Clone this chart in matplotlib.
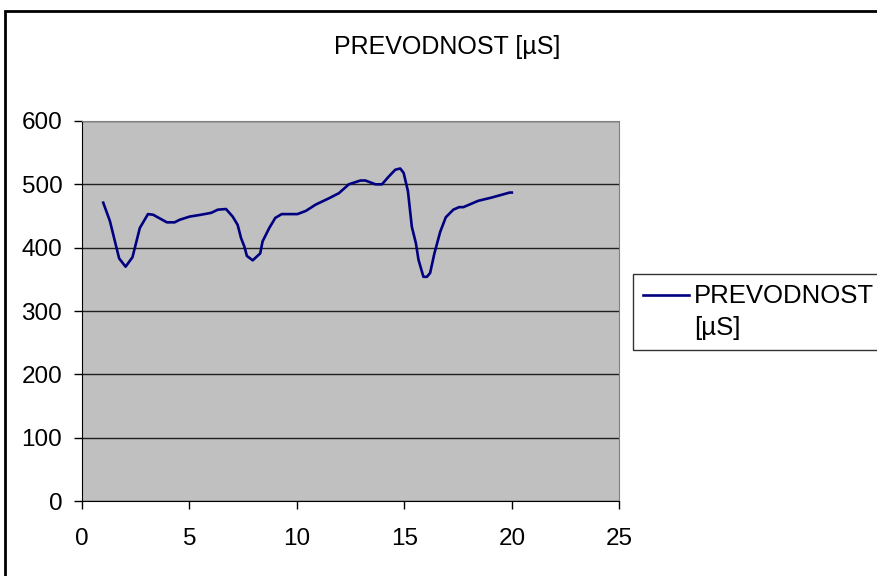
import matplotlib.pyplot as plt
from matplotlib.patches import Rectangle

plt.rcParams['font.family'] = ['Liberation Sans', 'DejaVu Sans']

# values
cas = [1.0, 1.31, 1.74, 2.04, 2.36, 2.70, 3.08, 3.32, 3.96, 4.32, 4.55, 5.01,
       5.55, 6.02, 6.33, 6.71, 7.02, 7.25, 7.41, 7.56, 7.68, 7.95, 8.30, 8.41,
       8.72, 9.0, 9.30, 10.03, 10.42, 10.88, 11.5, 11.96, 12.42, 12.96, 13.19,
       13.66, 13.96, 14.27, 14.58, 14.81, 14.97, 15.17, 15.35, 15.54, 15.66,
       15.89, 16.05, 16.2, 16.40, 16.67, 16.93, 17.28, 17.55, 17.75, 18.44,
       19.05, 19.9, 20.0]
prevodnost = [471, 442, 383, 370, 385, 431, 453, 452, 440, 440, 444, 449,
              452, 455, 460, 461, 449, 436, 415, 402, 387, 380, 391, 410,
              431, 447, 453, 453, 458, 468, 478, 486, 500, 506, 506,
              500, 500, 512, 523, 525, 518, 489, 433, 407, 381,
              354, 354, 360, 391, 425, 448, 460, 464, 464, 474,
              479, 487, 487]

xticks = [0, 5, 10, 15, 20, 25]
yticks = [0, 100, 200, 300, 400, 500, 600]

fig = plt.figure(figsize=(8.77, 5.76), dpi=100)
ax = fig.add_axes([0.0932, 0.130, 0.613, 0.660])

ax.set_facecolor('#C0C0C0')
ax.plot(cas, prevodnost, color='#000080', linewidth=1.9, label='PREVODNOST\n[µS]')

ax.set_xlim(0, 25)
ax.set_ylim(0, 600)
ax.set_xticks(xticks)
ax.set_yticks(yticks)
ax.tick_params(labelsize=17.5, direction='out', length=6, width=1, color='black')
ax.tick_params(axis='y', pad=8)
ax.tick_params(axis='x', pad=13)
ax.grid(axis='y', color='#202020', linewidth=1)
ax.set_axisbelow(True)
for side in ['left', 'bottom']:
    ax.spines[side].set_color('black')
for side in ['top', 'right']:
    ax.spines[side].set_color('#808080')

fig.text(447 / 877, 1 - 47 / 576, 'PREVODNOST [µS]', ha='center', va='center', fontsize=18)

leg = fig.legend(loc='upper left', bbox_to_anchor=(633 / 877, 1 - 274 / 576),
                 fontsize=18.5, frameon=True, fancybox=False, borderpad=0.38,
                 handlelength=1.8, handletextpad=0.2, borderaxespad=0)
leg.get_frame().set_edgecolor('black')
leg.get_frame().set_linewidth(1)
leg.get_texts()[0].set_linespacing(1.45)
# handle sits level with the first text line, as in the reference
handle = leg.get_lines()[0]
handle.set_ydata([y + 12.5 for y in handle.get_ydata()])

# outer chart frame
fig.patches.append(Rectangle((5 / 877, -0.1), 1.2, 1 - 11 / 576 + 0.1,
                             transform=fig.transFigure, fill=False,
                             edgecolor='black', linewidth=2))

fig.savefig('out.png', dpi=100)
